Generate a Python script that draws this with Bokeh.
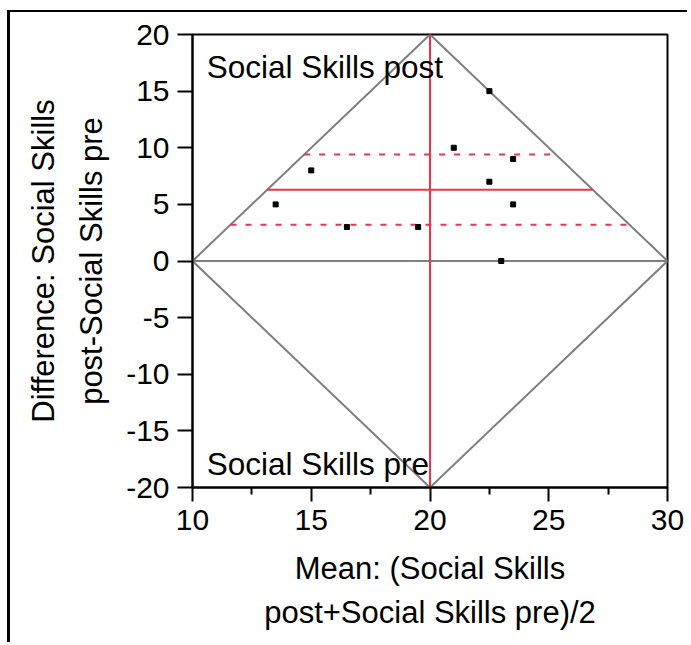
from bokeh.plotting import figure
from bokeh.models import Range1d, FixedTicker, LinearAxis, PrintfTickFormatter
from bokeh.core.properties import value
from bokeh.embed import file_html
from bokeh.resources import INLINE

# ---- data ----
means = [22.5, 21.0, 23.5, 15.0, 22.5, 13.5, 23.5, 16.5, 19.5, 23.0]
diffs = [15, 10, 9, 8, 7, 5, 5, 3, 3, 0]
mean_diff = 6.3
ci_upper = 9.4
ci_lower = 3.2
mean_of_means = 20.0
x_lo, x_hi = 10, 30
y_lo, y_hi = -20, 20
x_ticks = [10, 15, 20, 25, 30]
x_minor = [12.5, 17.5, 22.5, 27.5]
y_ticks = [-20, -15, -10, -5, 0, 5, 10, 15, 20]
x_label = ["Mean: (Social Skills", "post+Social Skills pre)/2"]
y_label = ["Difference: Social Skills", "post-Social Skills pre"]
top_text = "Social Skills post"
bottom_text = "Social Skills pre"

FONT = "Liberation Sans"
RED = "#f0324b"
GRAY = "#7f7f7f"

p = figure(width=680, height=632,
           x_range=Range1d(x_lo, x_hi), y_range=Range1d(y_lo, y_hi),
           output_backend="svg", toolbar_location=None,
           min_border_left=182, min_border_right=23,
           min_border_top=22, min_border_bottom=157)
p.styles = {"margin-left": "10px", "margin-top": "12px",
            "box-shadow": "-3px -2px 0px 0px black"}
p.grid.visible = False
p.outline_line_color = "black"
p.outline_line_width = 2
p.background_fill_color = "white"
p.border_fill_color = "white"

xa = p.xaxis[0]
xa.ticker = FixedTicker(ticks=x_ticks, minor_ticks=x_minor)
ya = p.yaxis[0]
ya.ticker = FixedTicker(ticks=y_ticks, minor_ticks=[])
for ax in (xa, ya):
    ax.formatter = PrintfTickFormatter(format="%d")
    ax.axis_line_color = "black"
    ax.axis_line_width = 2
    ax.major_tick_line_color = "black"
    ax.major_tick_line_width = 2
    ax.minor_tick_line_color = "black"
    ax.minor_tick_line_width = 2
    ax.major_tick_in = 0
    ax.minor_tick_in = 0
    ax.major_label_text_font = FONT
    ax.major_label_text_font_size = "30px"
    ax.major_label_text_color = "black"
    ax.axis_label_text_font = FONT
    ax.axis_label_text_font_size = "31px"
    ax.axis_label_text_font_style = "normal"
    ax.axis_label_text_color = "black"
xa.major_tick_out = 14
xa.minor_tick_out = 7
xa.major_label_standoff = 8
xa.axis_label = x_label[0]
xa.axis_label_standoff = 18
ya.major_tick_out = 15
ya.minor_tick_out = 0
ya.major_label_standoff = 8
ya.axis_label = y_label[1]
ya.axis_label_standoff = 14

xa2 = LinearAxis(ticker=FixedTicker(ticks=[]), axis_line_color=None,
                 major_tick_line_color=None, minor_tick_line_color=None,
                 axis_label=x_label[1], axis_label_text_font=FONT,
                 axis_label_text_font_size="31px", axis_label_text_font_style="normal",
                 axis_label_text_color="black", axis_label_standoff=6)
p.add_layout(xa2, "below")
ya2 = LinearAxis(ticker=FixedTicker(ticks=[]), axis_line_color=None,
                 major_tick_line_color=None, minor_tick_line_color=None,
                 axis_label=y_label[0], axis_label_text_font=FONT,
                 axis_label_text_font_size="31px", axis_label_text_font_style="normal",
                 axis_label_text_color="black", axis_label_standoff=11)
p.add_layout(ya2, "left")

# diamond and zero line
p.line([x_lo, mean_of_means, x_hi, mean_of_means, x_lo], [0, y_hi, 0, y_lo, 0],
       line_color=GRAY, line_width=2)
p.line([x_lo, x_hi], [0, 0], line_color=GRAY, line_width=2)

# mean difference and confidence limits, clipped to the diamond
def span_at(d):
    return [x_lo + d * (mean_of_means - x_lo) / y_hi, x_hi - d * (x_hi - mean_of_means) / y_hi]

p.line(span_at(mean_diff), [mean_diff, mean_diff], line_color=RED, line_width=2)
p.line(span_at(ci_upper), [ci_upper, ci_upper], line_color=RED, line_width=2, line_dash="6 9")
p.line(span_at(ci_lower), [ci_lower, ci_lower], line_color=RED, line_width=2, line_dash="6 9")
p.line([mean_of_means, mean_of_means], [y_lo, y_hi], line_color=RED, line_width=2)

p.scatter(means, diffs, marker="square", size=5, color="black")

p.text(x=[10.6], y=[17.15], text=[top_text], text_font=value(FONT),
       text_font_size="31.5px", text_baseline="alphabetic", text_color="black")
p.text(x=[10.6], y=[-17.9], text=[bottom_text], text_font=value(FONT),
       text_font_size="31.5px", text_baseline="alphabetic", text_color="black")

open("out.html", "w").write(file_html(p, INLINE))
